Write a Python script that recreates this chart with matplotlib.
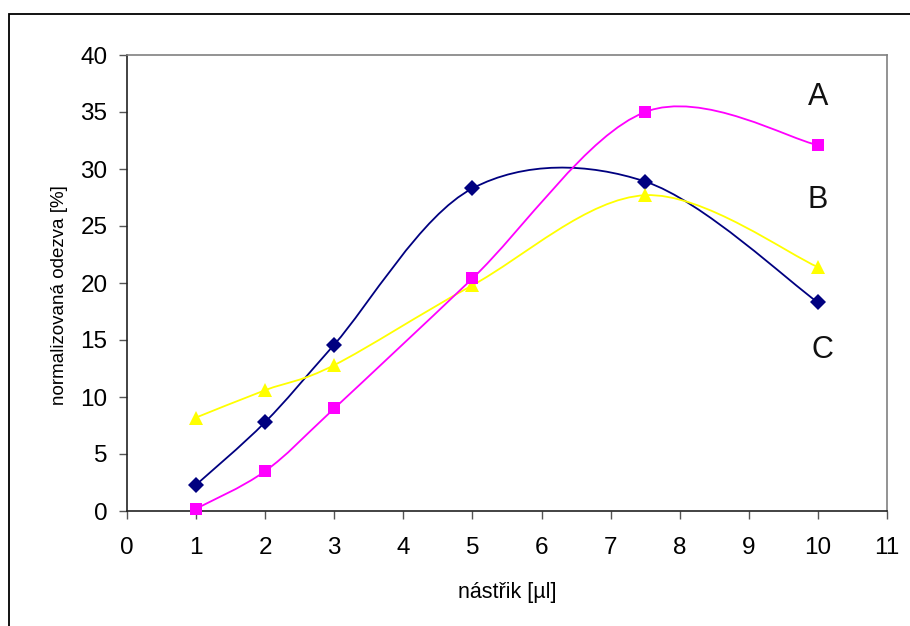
import matplotlib
matplotlib.use("Agg")
from matplotlib import pyplot
from matplotlib.path import Path
from matplotlib.patches import PathPatch, Rectangle

pyplot.rcParams['font.family'] = ['Liberation Sans', 'DejaVu Sans']

# data
x = [1, 2, 3, 5, 7.5, 10]
serie_c = [2.3, 7.8, 14.6, 28.3, 28.9, 18.3]     # navy, diamonds
serie_a = [0.2, 3.5, 9.0, 20.4, 35.0, 32.1]      # magenta, squares
serie_b = [8.2, 10.6, 12.8, 19.8, 27.7, 21.4]    # yellow, triangles
popisky = ['A', 'B', 'C']
popisky_x = [10.0, 10.0, 10.07]
popisky_y = [36.3, 27.3, 14.1]


def hladka_cesta(xs, ys):
    # Excel-like smoothed line: cubic bezier through the points
    pts = list(zip(xs, ys))
    n = len(pts)
    verts = [pts[0]]
    codes = [Path.MOVETO]
    for i in range(n - 1):
        p0 = pts[i - 1] if i > 0 else pts[i]
        p1 = pts[i]
        p2 = pts[i + 1]
        p3 = pts[i + 2] if i + 2 < n else pts[i + 1]
        c1 = (p1[0] + (p2[0] - p0[0]) / 6, p1[1] + (p2[1] - p0[1]) / 6)
        c2 = (p2[0] - (p3[0] - p1[0]) / 6, p2[1] - (p3[1] - p1[1]) / 6)
        verts += [c1, c2, p2]
        codes += [Path.CURVE4] * 3
    return Path(verts, codes)


figura = pyplot.figure(figsize=(9.1, 6.26), dpi=100)
ax = figura.add_axes([127 / 910, 1 - 511 / 626, 760 / 910, 456 / 626])

serie = [(serie_c, '#000080', 'D', 8),
         (serie_b, '#FFFF00', '^', 10),
         (serie_a, '#FF00FF', 's', 9)]
for ys, barva, znacka, vel in serie:
    ax.add_patch(PathPatch(hladka_cesta(x, ys), fill=False, edgecolor=barva,
                           linewidth=1.3, zorder=2, clip_on=False))
    ax.plot(x, ys, linestyle='none', marker=znacka, markersize=vel,
            color=barva, markeredgewidth=0, zorder=3, clip_on=False)

for t, px, py in zip(popisky, popisky_x, popisky_y):
    ax.text(px, py, t, fontsize=22, ha='center', va='center', color='#111111')

ax.set_xlim(0, 11)
ax.set_ylim(0, 40)
ax.set_xticks(range(0, 12))
ax.set_yticks(range(0, 41, 5))
ax.tick_params(labelsize=17.5, direction='out', length=6, width=1,
               color='#555555', pad=8)
ax.tick_params(axis='x', pad=13)
ax.set_xlabel('nástřik [µl]', fontsize=15.5)
ax.set_ylabel('normalizovaná odezva [%]', fontsize=13.5)
ax.xaxis.set_label_coords(0.5, -0.155)
ax.yaxis.set_label_coords(-0.078, 0.474)
ax.spines['top'].set_color('#808080')
ax.spines['right'].set_color('#808080')
ax.spines['left'].set_color('#222222')
ax.spines['bottom'].set_color('#222222')
for s in ax.spines.values():
    s.set_linewidth(1.2)

# outer chart frame
figura.patches.append(Rectangle((9 / 910, -0.1), 1.2, 1 - 14 / 626 + 0.1,
                                transform=figura.transFigure, fill=False,
                                edgecolor='black', linewidth=1.3))

figura.savefig('out.png', dpi=100)
